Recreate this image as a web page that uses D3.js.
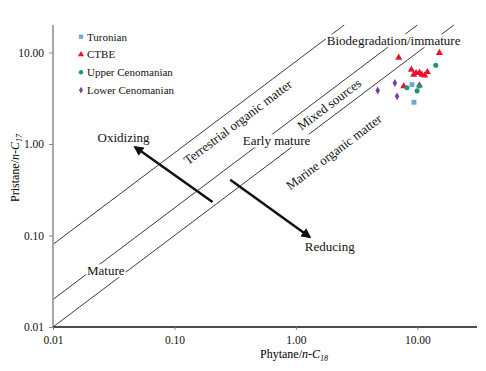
<!DOCTYPE html>
<html>
<head>
<meta charset="utf-8">
<script src="https://cdn.jsdelivr.net/npm/d3@7"></script>
<style>
    body { margin: 0; background: #fff; }
    svg { display: block; font-family: "Liberation Serif", "Times New Roman", serif; }
</style>
</head>
<body>
<svg class="chart" width="486" height="371"></svg>
<script>
// Series (Phytane/n-C18 vs Pristane/n-C17)
var seriesNames = ['Turonian', 'CTBE', 'Upper Cenomanian', 'Lower Cenomanian'];
var turonianX = [9.02, 9.38];
var turonianY = [4.46, 2.86];
var ctbeX = [7.03, 15.2, 8.93, 9.33, 9.77, 10.4, 10.9, 11.5, 12.1, 7.73, 10.4];
var ctbeY = [8.80, 9.89, 6.50, 5.73, 5.97, 6.03, 5.73, 5.63, 6.12, 4.28, 4.39];
var upperCenX = [14.2, 8.20, 10.4, 9.95];
var upperCenY = [7.24, 4.13, 4.30, 3.81];
var lowerCenX = [4.72, 6.53, 6.81];
var lowerCenY = [3.84, 4.64, 3.32];

var tickValues = [0.01, 0.1, 1, 10];
var lineRatios = [8, 2, 1]; // Pr/n-C17 = k * Ph/n-C18

var regionLabels = ['Biodegradation/immature', 'Oxidizing', 'Early mature', 'Reducing', 'Mature'];
var regionLabelX = [6.38, 0.0381, 0.693, 1.90, 0.0272];
var regionLabelY = [12.0, 1.05, 0.968, 0.0678, 0.0367];

var slantLabels = ['Terrestrial organic matter', 'Mixed sources', 'Marine organic matter'];
var slantLabelX = [0.332, 1.88, 2.05];
var slantLabelY = [1.74, 2.72, 0.818];

var arrowFrom = [[0.206, 0.232], [0.288, 0.408]];
var arrowTo = [[0.0474, 0.927], [1.30, 0.0964]];

var margin = { left: 53, top: 25, right: 9, bottom: 44 };
var width = 486 - margin.left - margin.right;
var height = 371 - margin.top - margin.bottom;

var xScale = d3.scaleLog().domain([0.01, 31]).range([0, width]);
var yScale = d3.scaleLog().domain([0.01, 20]).range([height, 0]);

var styles = [
    { color: '#6ea7d8', symbol: d3.symbolSquare, size: 24 },
    { color: '#e8132f', symbol: d3.symbolTriangle, size: 22 },
    { color: '#1b9a72', symbol: d3.symbolCircle, size: 20 },
    { color: '#7b3e98', symbol: d3.symbolDiamond, size: 18 }
];

function zipPoints(xs, ys) {
    return xs.map(function(x, i) {
        return { x: x, y: ys[i] };
    });
}

var seriesData = [
    zipPoints(turonianX, turonianY),
    zipPoints(ctbeX, ctbeY),
    zipPoints(upperCenX, upperCenY),
    zipPoints(lowerCenX, lowerCenY)
];

var svg = d3.select('.chart');
var g = svg.append('g')
    .attr('transform', 'translate(' + margin.left + ',' + margin.top + ')');

svg.append('defs').append('marker')
    .attr('id', 'head')
    .attr('viewBox', '0 0 10 10')
    .attr('refX', 8)
    .attr('refY', 5)
    .attr('markerWidth', 4.2)
    .attr('markerHeight', 4)
    .attr('markerUnits', 'strokeWidth')
    .attr('orient', 'auto')
    .append('path')
    .attr('d', 'M0,0 L10,5 L0,10 Z')
    .attr('fill', '#111');

/* Reference lines */
g.append('g').selectAll('line')
    .data(lineRatios)
    .join('line')
    .attr('x1', xScale(0.01))
    .attr('y1', function(k) { return yScale(0.01 * k); })
    .attr('x2', function(k) { return xScale(20 / k); })
    .attr('y2', yScale(20))
    .attr('stroke', '#3a3a3a')
    .attr('stroke-width', 1);

/* Axes */
var yAxis = g.append('g')
    .call(d3.axisLeft(yScale).tickValues(tickValues).tickFormat(d3.format('.2f')).tickSize(4).tickPadding(5));
yAxis.select('.domain').attr('stroke', '#a8a8a8').attr('stroke-width', 2).attr('d', 'M0,' + height + 'V0');
yAxis.selectAll('.tick line').attr('stroke', '#888');
yAxis.selectAll('.tick text').attr('font-family', 'Liberation Serif').attr('font-size', 11.5).attr('fill', '#111');

var xAxis = g.append('g')
    .attr('transform', 'translate(0,' + height + ')')
    .call(d3.axisBottom(xScale).tickValues(tickValues).tickFormat(d3.format('.2f')).tickSize(3).tickPadding(6));
xAxis.select('.domain').attr('stroke', '#111').attr('stroke-width', 1.3).attr('d', 'M0,0H' + width);
xAxis.selectAll('.tick line').attr('stroke', '#888');
xAxis.selectAll('.tick text').attr('font-family', 'Liberation Serif').attr('font-size', 11.5).attr('fill', '#111');

/* Axis titles */
var xTitle = svg.append('text')
    .attr('x', 260)
    .attr('y', 358)
    .attr('font-size', 12);
xTitle.append('tspan').text('Phytane/');
xTitle.append('tspan').attr('font-style', 'italic').text('n-C');
xTitle.append('tspan').attr('font-style', 'italic').attr('font-size', 8).attr('dy', 3).text('18');

var yTitle = svg.append('text')
    .attr('transform', 'translate(19,202) rotate(-90)')
    .attr('font-size', 12);
yTitle.append('tspan').text('Pristane/');
yTitle.append('tspan').attr('font-style', 'italic').text('n-C');
yTitle.append('tspan').attr('font-style', 'italic').attr('font-size', 8).attr('dy', 3).text('17');

/* Region labels */
var labels = g.append('g').selectAll('g')
    .data(regionLabels)
    .join('g');
labels.append('text')
    .attr('x', function(d, i) { return xScale(regionLabelX[i]); })
    .attr('y', function(d, i) { return yScale(regionLabelY[i]); })
    .attr('text-anchor', 'middle')
    .attr('font-size', 13)
    .attr('fill', '#111')
    .text(function(d) { return d; });
labels.each(function() {
    var box = d3.select(this).select('text').node().getBBox();
    d3.select(this).insert('rect', 'text')
        .attr('x', box.x - 1)
        .attr('y', box.y + 1)
        .attr('width', box.width + 2)
        .attr('height', box.height - 2)
        .attr('fill', '#fff');
});

var angle = -Math.atan((yScale(0.01) - yScale(0.1)) / (xScale(0.1) - xScale(0.01))) * 180 / Math.PI;
g.append('g').selectAll('text')
    .data(slantLabels)
    .join('text')
    .attr('transform', function(d, i) {
        return 'translate(' + xScale(slantLabelX[i]) + ',' + yScale(slantLabelY[i]) + ') rotate(' + angle + ')';
    })
    .attr('text-anchor', 'middle')
    .attr('dy', '0.35em')
    .attr('font-size', 13)
    .attr('fill', '#111')
    .text(function(d) { return d; });

/* Arrows */
g.append('g').selectAll('line')
    .data(arrowFrom)
    .join('line')
    .attr('x1', function(d) { return xScale(d[0]); })
    .attr('y1', function(d) { return yScale(d[1]); })
    .attr('x2', function(d, i) { return xScale(arrowTo[i][0]); })
    .attr('y2', function(d, i) { return yScale(arrowTo[i][1]); })
    .attr('stroke', '#111')
    .attr('stroke-width', 2.5)
    .attr('marker-end', 'url(#head)');

/* Points */
g.append('g').selectAll('g')
    .data(seriesData)
    .join('g')
    .each(function(points, si) {
        var st = styles[si];
        d3.select(this).selectAll('path')
            .data(points)
            .join('path')
            .attr('transform', function(d) {
                return 'translate(' + xScale(d.x) + ',' + yScale(d.y) + ')';
            })
            .attr('d', d3.symbol().type(st.symbol).size(st.size))
            .attr('fill', st.color);
    });

/* Legend */
var legend = svg.append('g').selectAll('g')
    .data(seriesNames)
    .join('g')
    .attr('transform', function(d, i) {
        return 'translate(81,' + (36.7 + i * 17.8) + ')';
    });
legend.append('path')
    .attr('d', function(d, i) { return d3.symbol().type(styles[i].symbol).size(styles[i].size * 0.75)(); })
    .attr('fill', function(d, i) { return styles[i].color; });
legend.append('text')
    .attr('x', 6)
    .attr('dy', '0.35em')
    .attr('font-size', 11)
    .attr('fill', '#111')
    .text(function(d) { return d; });
</script>
</body>
</html>
